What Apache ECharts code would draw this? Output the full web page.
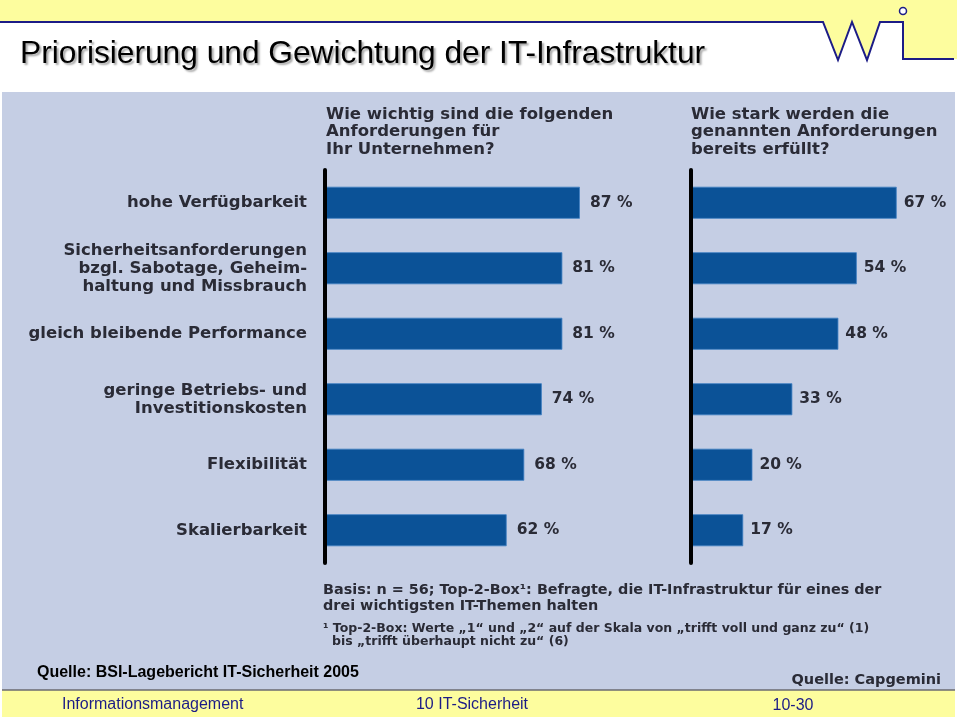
<!DOCTYPE html>
<html>
<head>
<meta charset="utf-8">
<script src="https://cdn.jsdelivr.net/npm/echarts@6/dist/echarts.min.js"></script>
<style>html,body{margin:0;padding:0;background:#fff}#c{width:960px;height:720px}</style>
</head>
<body>
<div id="c"></div>
<script>
const categories = [
  'hohe Verfügbarkeit',
  'Sicherheitsanforderungen\nbzgl. Sabotage, Geheim-\nhaltung und Missbrauch',
  'gleich bleibende Performance',
  'geringe Betriebs- und\nInvestitionskosten',
  'Flexibilität',
  'Skalierbarkeit'
];
const importance = [87, 81, 81, 74, 68, 62];
const fulfilled = [67, 54, 48, 33, 20, 17];
const headingLeft = 'Wie wichtig sind die folgenden\nAnforderungen für\nIhr Unternehmen?';
const headingRight = 'Wie stark werden die\ngenannten Anforderungen\nbereits erfüllt?';
const titleText = 'Priorisierung und Gewichtung der IT-Infrastruktur';
const noteBasis = 'Basis: n = 56; Top-2-Box¹: Befragte, die IT-Infrastruktur für eines der\ndrei wichtigsten IT-Themen halten';
const noteTop2a = '¹ Top-2-Box: Werte „1“ und „2“ auf der Skala von „trifft voll und ganz zu“ (1)';
const noteTop2b = 'bis „trifft überhaupt nicht zu“ (6)';
const sourceImg = 'Quelle: Capgemini';
const sourceSlide = 'Quelle: BSI-Lagebericht IT-Sicherheit 2005';
const footer = ['Informationsmanagement', '10 IT-Sicherheit', '10-30'];

const PANEL_FONT = '"DejaVu Sans", "Open Sans", sans-serif';
const TXT = '#2a2b36';
const NAVY = '#1c1c86';
const YELLOW = '#fdfd9e';

const chart = echarts.init(document.getElementById('c'), null, {renderer: 'canvas'});

function yAx(idx, showLabel) {
  return {
    type: 'category', gridIndex: idx, inverse: true, data: categories, z: 5,
    axisLine: {show: true, lineStyle: {color: '#000', width: 4}},
    axisTick: {show: false},
    splitLine: {show: false},
    axisLabel: {
      show: showLabel, margin: 18, align: 'right', color: TXT,
      fontFamily: PANEL_FONT, fontWeight: 'bold', fontSize: 16.5, lineHeight: 18
    }
  };
}
function xAx(idx, max) {
  return {type: 'value', gridIndex: idx, min: 0, max: max, show: false};
}
function barSeries(idx, data, dist) {
  return {
    type: 'bar', xAxisIndex: idx, yAxisIndex: idx, data: data, barWidth: 32,
    itemStyle: {color: '#0b5297', borderColor: '#3f7fc2', borderWidth: 0.8},
    label: {
      show: true, position: 'right', distance: dist, formatter: '{c} %',
      color: TXT, fontFamily: PANEL_FONT, fontWeight: 'bold', fontSize: 15.5
    },
    silent: true, animation: false
  };
}

const option = {
  backgroundColor: '#ffffff',
  animation: false,
  grid: [
    {left: 325, top: 170, width: 293, height: 393},
    {left: 691, top: 170, width: 245.6, height: 393}
  ],
  xAxis: [xAx(0, 100), xAx(1, 80)],
  yAxis: [yAx(0, true), yAx(1, false)],
  series: [barSeries(0, importance, 10), barSeries(1, fulfilled, 7)],
  graphic: [
    // header band + logo
    {type: 'polygon', z: -20, silent: true,
     shape: {points: [[0,0],[957,0],[957,59],[903,59],[903,22],[880,22],[867,60],[852,22],[838,60],[823,22],[0,22]]},
     style: {fill: YELLOW}},
    {type: 'polyline', z: -19, silent: true,
     shape: {points: [[0,22],[823,22],[838,60],[852,22],[867,60],[880,22],[903,22],[903,59],[954,59]]},
     style: {stroke: NAVY, lineWidth: 2, fill: null}},
    {type: 'circle', z: -19, silent: true, shape: {cx: 903, cy: 11, r: 3.5},
     style: {stroke: NAVY, lineWidth: 1.5, fill: '#fff'}},
    // title
    {type: 'text', z: 10, silent: true, x: 20, y: 54,
     style: {text: titleText, fill: '#000', font: '31.7px "Liberation Sans", Arial, sans-serif',
       verticalAlign: 'middle', textShadowColor: 'rgba(0,0,0,0.35)', textShadowOffsetX: 2, textShadowOffsetY: 2, textShadowBlur: 2}},
    // panel
    {type: 'rect', z: -20, silent: true, shape: {x: 2, y: 92, width: 953, height: 598},
     style: {fill: '#c5cee4'}},
    {type: 'rect', z: -20, silent: true, shape: {x: 2, y: 690, width: 953, height: 27},
     style: {fill: YELLOW}},
    {type: 'line', z: -19, silent: true, shape: {x1: 2, y1: 690, x2: 955, y2: 690},
     style: {stroke: '#6a6a70', lineWidth: 1.5}},
    // headings
    {type: 'text', z: 10, silent: true, x: 326, y: 105.5,
     style: {text: headingLeft, fill: TXT, font: 'bold 16.5px ' + PANEL_FONT, lineHeight: 17.5}},
    {type: 'text', z: 10, silent: true, x: 691, y: 105.5,
     style: {text: headingRight, fill: TXT, font: 'bold 16.5px ' + PANEL_FONT, lineHeight: 17.5}},
    // notes
    {type: 'text', z: 10, silent: true, x: 323, y: 582,
     style: {text: noteBasis, fill: TXT, font: 'bold 14.4px ' + PANEL_FONT, lineHeight: 16}},
    {type: 'text', z: 10, silent: true, x: 323, y: 629,
     style: {text: noteTop2a, fill: TXT, font: 'bold 12.5px ' + PANEL_FONT, verticalAlign: 'middle'}},
    {type: 'text', z: 10, silent: true, x: 332, y: 642,
     style: {text: noteTop2b, fill: TXT, font: 'bold 12.5px ' + PANEL_FONT, verticalAlign: 'middle'}},
    {type: 'text', z: 10, silent: true, x: 941, y: 680,
     style: {text: sourceImg, fill: TXT, font: 'bold 14.5px ' + PANEL_FONT, align: 'right', verticalAlign: 'middle'}},
    {type: 'text', z: 10, silent: true, x: 37, y: 673,
     style: {text: sourceSlide, fill: '#000', font: 'bold 16px "Liberation Sans", Arial, sans-serif', verticalAlign: 'middle'}},
    // footer
    {type: 'text', z: 10, silent: true, x: 62, y: 705,
     style: {text: footer[0], fill: NAVY, font: '16px "Liberation Sans", Arial, sans-serif', verticalAlign: 'middle'}},
    {type: 'text', z: 10, silent: true, x: 472, y: 705,
     style: {text: footer[1], fill: NAVY, font: '16px "Liberation Sans", Arial, sans-serif', align: 'center', verticalAlign: 'middle'}},
    {type: 'text', z: 10, silent: true, x: 793, y: 706,
     style: {text: footer[2], fill: NAVY, font: '16px "Liberation Sans", Arial, sans-serif', align: 'center', verticalAlign: 'middle'}}
  ]
};
chart.setOption(option);
</script>
</body>
</html>
